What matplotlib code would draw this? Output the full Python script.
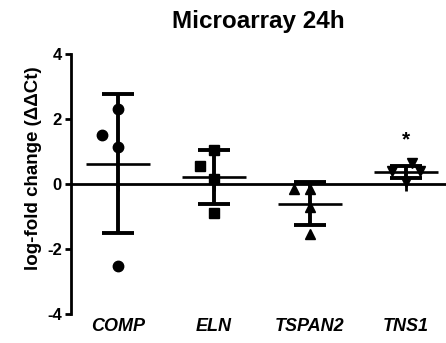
import matplotlib
matplotlib.use("Agg")
import matplotlib.pyplot as plt
import numpy as np

categories = ["COMP", "ELN", "TSPAN2", "TNS1"]
markers = ["o", "s", "^", "v"]

# individual points (log-fold change) and horizontal jitter
points = [
    [1.52, 2.30, 1.14, -2.52],
    [0.55, 1.04, 0.16, -0.90],
    [-0.16, -0.16, -0.70, -1.53],
    [0.40, 0.40, 0.66, 0.06],
]
jitter = [
    [-0.167, 0.0, 0.0, 0.0],
    [-0.146, 0.0, 0.0, 0.0],
    [-0.160, 0.0, 0.0, 0.0],
    [-0.146, 0.146, 0.07, 0.0],
]
means = [0.62, 0.21, -0.60, 0.37]
sds = [2.14, 0.83, 0.66, 0.19]
significance = ["", "", "", "*"]

yticks = [-4, -2, 0, 2, 4]

plt.rcParams['font.family'] = ['Liberation Sans', 'DejaVu Sans']

fig = plt.figure(figsize=(4.46, 3.43), dpi=100)
ax = fig.add_axes([71/446, 1-314/343, 1-71/446, (314-54)/343])

x = np.arange(len(categories))
for i in range(len(categories)):
    xs = x[i] + np.array(jitter[i])
    ax.plot(xs, points[i], linestyle='none', marker=markers[i], color='black',
            markersize=7.5, zorder=3)
    ax.errorbar([x[i]], [means[i]], yerr=[sds[i]], fmt='none', ecolor='black',
                elinewidth=2.8, capsize=11.5, capthick=2.8, zorder=4)
    ax.hlines(means[i], x[i]-0.335, x[i]+0.335, color='black', lw=1.9, zorder=4)
    if significance[i]:
        ax.text(x[i], means[i] + sds[i] + 0.8, significance[i], ha='center',
                va='center', fontsize=15, fontweight='bold')

ax.axhline(0, color='black', lw=2.0, zorder=2)

ax.set_xlim(-0.49, 3.42)
ax.set_ylim(-4, 4)
ax.set_yticks(yticks)
ax.set_yticklabels([str(t) for t in yticks])
ax.set_xticks(x)
ax.set_xticklabels(categories)

ax.spines['right'].set_visible(False)
ax.spines['bottom'].set_visible(False)
ax.spines['top'].set_position(('data', 0))
ax.spines['top'].set_visible(False)
ax.spines['left'].set_linewidth(2.0)

ax.tick_params(axis='x', top=True, bottom=False, labelbottom=True, labeltop=False,
               direction='in', length=5, width=2.0, pad=3)
ax.tick_params(axis='y', direction='out', length=4.5, width=2.0, pad=2)
for lab in ax.get_xticklabels():
    lab.set_fontsize(13)
    lab.set_fontweight('bold')
    lab.set_fontstyle('italic')
for lab in ax.get_yticklabels():
    lab.set_fontsize(12)
    lab.set_fontweight('bold')

ax.set_ylabel("log-fold change (ΔΔCt)", fontsize=13.5, fontweight='bold')
ax.yaxis.set_label_coords(-0.077, 0.56)
ax.set_title("Microarray 24h", fontsize=17.5, fontweight='bold', pad=19)

fig.savefig("out.png", dpi=100)
